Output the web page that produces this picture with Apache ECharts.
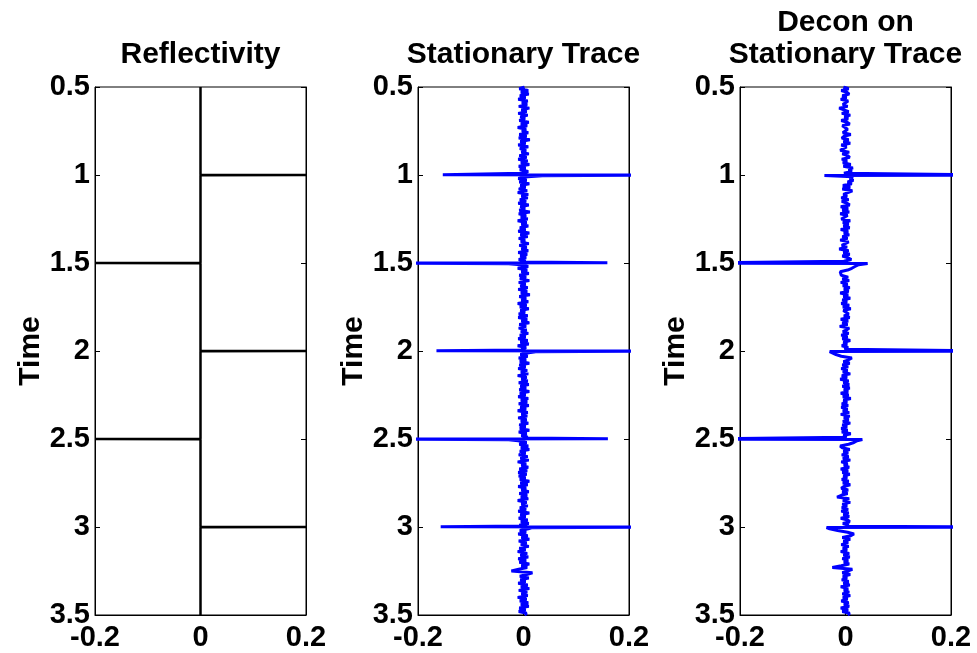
<!DOCTYPE html>
<html><head><meta charset="utf-8">
<script src="https://cdn.jsdelivr.net/npm/echarts@6/dist/echarts.min.js"></script>
<style>html,body{margin:0;padding:0;background:#fff}#c{width:977px;height:653px}</style>
</head><body><div id="c"></div>
<script>
// ---- data ----
const panelTitles = ['Reflectivity', 'Stationary Trace', 'Decon on\nStationary Trace'];
const xTicks = [-0.2, 0, 0.2];
const yTicks = [0.5, 1, 1.5, 2, 2.5, 3, 3.5];
const sampleStart = 0.5, sampleStep = 0.01;            // time grid of noise samples (s)
const eventTimes = [1.0, 1.5, 2.0, 2.5, 3.0];
const reflectivityValues = [0.2, -0.2, 0.2, -0.2, 0.2];

// stationary trace: side lobe, main peak (clipped), small tail bump
const stationaryLobe = [-0.153, 0.159, -0.165, 0.16, -0.157];
const stationaryPeak = [0.34, -0.35, 0.35, -0.35, 0.34];
const stationaryTail = [0.036, -0.028, 0.023, -0.028, 0.015];
// decon trace: main peak (clipped), small opposite bump
const deconPeak = [0.3, -0.3, 0.3, -0.3, 0.3];
const deconBump = [-0.04, 0.042, -0.03, 0.032, -0.036];

const stationaryNoise = [
.002,-.008,.009,-.005,.010,-.007,.004,-.010,.008,-.003,
.007,-.009,.011,-.004,.006,-.010,.008,-.006,.003,-.008,
.010,-.005,.007,-.011,.005,-.003,.009,-.008,.006,-.009,
.012,-.006,.004,-.010,.009,-.007,.005,-.004,.010,-.008,
.006,-.010,.008,-.005,.011,-.009,.004,-.007,.009,-.003,
0,.008,-.010,.006,-.008,.011,-.006,.004,-.009,.007,
-.011,.009,-.004,.008,-.007,.005,-.010,.010,-.006,.003,
-.008,.012,-.009,.005,-.005,.008,-.011,.006,-.004,.009,
-.007,.004,-.010,.011,-.006,.008,-.009,.003,-.005,.010,
-.008,.006,-.004,.009,-.010,.007,-.006,.005,-.009,.004,
0,-.006,.009,-.011,.007,-.004,.010,-.008,.005,-.007,
.011,-.009,.004,-.006,.008,-.010,.007,-.005,.012,-.008,
.005,-.004,.009,-.011,.006,-.007,.010,-.006,.003,-.009,
.008,-.010,.007,-.004,.011,-.008,.005,-.009,.006,-.005,
.009,-.007,.004,-.010,.008,-.006,.010,-.011,.005,-.004,
0,.010,-.006,.008,-.009,.005,-.007,.011,-.008,.004,
-.010,.007,-.005,.009,-.011,.006,-.004,.008,-.009,.010,
-.006,.005,-.008,.011,-.007,.004,-.010,.009,-.005,.007,
-.009,.010,-.006,.005,-.011,.008,-.004,.007,-.010,.006,
-.005,.009,-.008,.004,-.007,.011,-.009,.006,-.004,.008,
0,-.010,.006,-.008,.009,-.005,.011,-.007,.004,-.009,
.008,-.006,.010,-.011,.005,-.004,.009,-.008,.007,-.010,
.006,-.009,.004,-.007,.011,-.006,.008,-.010,.005,-.004,
.010,-.008,.007,-.005,.009,-.011,.006,-.004,.008,-.007,
.005,-.010,.011,-.006,.004,-.009,.008,-.005,.010,-.008,
0,.009,-.007,.005,-.010,.008,-.004,.011,-.009,.006,
-.005,.010,-.008,.004,-.011,.007,-.006,.009,-.010,.005,
-.008,.011,-.004,.007,-.009,-.023,.017,.006,-.007,.010,
-.006,.004,-.010,.008,-.005,.011,-.009,.007,-.004,.008,
-.011,.006,-.007,.009,-.005,.010,-.008,.004,-.009,.006,
.002];

const deconNoise = [
-.004,.006,-.008,.003,.007,-.006,.002,-.009,.005,.008,
-.005,.004,-.012,-.003,.006,-.007,.009,-.002,.005,-.008,
.003,.008,-.006,-.009,.004,.007,-.005,.010,-.003,-.007,
.006,-.004,.009,-.008,.002,.005,-.010,.007,-.006,.004,
.008,-.007,.003,-.005,.010,-.004,.014,.006,.012,-.003,
0,.014,.008,.015,.004,.012,-.005,.009,-.006,.013,
.010,-.004,.003,-.008,.006,-.007,.002,.008,-.009,.005,
-.006,.007,-.010,.004,.003,-.008,.009,-.005,.006,-.004,
.008,-.009,.005,-.003,.007,-.006,.004,-.010,.006,.009,
-.007,.003,-.012,.006,-.004,.008,-.006,.005,.011,-.003,
0,.025,.018,.012,.004,-.010,-.013,-.008,.005,-.006,
.007,-.009,.004,-.005,.008,-.003,.006,-.010,.005,-.004,
.009,-.006,.003,-.008,.007,-.005,.010,-.004,-.007,.006,
-.003,.008,-.009,.005,-.006,.004,-.011,.007,.002,-.005,
.006,-.008,.004,-.006,.009,-.004,.003,-.007,.005,-.002,
0,-.028,-.018,-.008,.012,.006,-.004,.008,-.006,.005,
-.008,.004,-.005,.009,-.007,.003,-.010,.006,-.004,.007,
-.006,.008,-.003,.005,-.009,.006,-.005,.010,-.004,.003,
-.007,.005,-.008,.004,-.005,.007,-.009,.008,-.003,.006,
-.005,.009,-.006,.003,-.008,.004,-.007,.010,-.004,.002,
0,.022,.016,.006,-.010,-.006,.008,-.004,.005,-.007,
.006,-.005,.009,-.008,.004,-.003,.007,-.009,.005,-.006,
.008,-.004,.003,-.007,.006,-.005,.009,-.003,-.008,.005,
-.006,.004,-.008,-.016,.007,-.005,.009,-.006,.003,-.007,
.005,-.008,.006,-.004,.007,-.009,.004,.008,-.005,.006,
0,-.030,-.015,.004,.016,.010,-.006,.009,-.004,.005,
-.008,.006,-.005,.003,-.009,.007,-.004,.008,-.006,.005,
-.003,.007,-.008,-.025,.013,.004,-.006,.009,-.005,.003,
-.007,.006,-.004,.008,-.009,.005,-.003,.007,-.006,.009,
-.005,.004,-.008,.006,-.003,.007,-.009,.005,-.006,.008,
.004];

// ---- build traces ----
function r3(v) { return Math.round(v * 10000) / 10000; }
function eventIndexAt(t) {
  for (let k = 0; k < eventTimes.length; k++) if (Math.abs(eventTimes[k] - t) < 1e-6) return k;
  return -1;
}
function buildReflectivity() {
  const pts = [[0, sampleStart]];
  eventTimes.forEach((t, k) => {
    pts.push([0, r3(t - 0.002)], [reflectivityValues[k], t], [0, r3(t + 0.002)]);
  });
  pts.push([0, 3.5]);
  return pts;
}
function buildTrace(noise, eventFn) {
  const pts = [];
  for (let i = 0; i < noise.length; i++) {
    const t = r3(sampleStart + i * sampleStep);
    const k = eventIndexAt(t);
    if (k >= 0) eventFn(k, t).forEach(p => pts.push(p));
    else pts.push([noise[i], t]);
  }
  return pts;
}
const reflectivityData = buildReflectivity();
const stationaryData = buildTrace(stationaryNoise, (k, t) => [
  [0, r3(t - 0.005)], [stationaryLobe[k], r3(t - 0.002)], [stationaryPeak[k], t], [stationaryTail[k], r3(t + 0.004)]
]);
const deconData = buildTrace(deconNoise, (k, t) => [
  [0, r3(t - 0.004)], [deconPeak[k], t], [deconBump[k], r3(t + 0.003)]
]);

// ---- chart ----
const FONT = '"Liberation Sans", Arial, Helvetica, sans-serif';
const lefts = [95, 418, 740];
const W = 211, TOP = 87, H = 528;
const tickStyle = { color: '#000', fontSize: 29, fontWeight: 'bold', fontFamily: FONT };
const nameStyle = { color: '#000', fontSize: 30, fontWeight: 'bold', fontFamily: FONT };

const chart = echarts.init(document.getElementById('c'), null, { renderer: 'canvas' });
const grids = lefts.map(l => ({ left: l, top: TOP, width: W, height: H, show: true, borderColor: '#000', borderWidth: 1, backgroundColor: '#fff', containLabel: false }));
const xAxes = lefts.map((l, i) => ({
  type: 'value', gridIndex: i, min: xTicks[0], max: xTicks[xTicks.length - 1], interval: 0.2,
  axisLine: { show: true, onZero: false, lineStyle: { color: '#000', width: 1 } },
  axisTick: { show: true, inside: true, length: 5, lineStyle: { color: '#000' } },
  splitLine: { show: false },
  axisLabel: Object.assign({ margin: 8, formatter: v => String(Math.round(v * 10) / 10) }, tickStyle)
}));
const yLeft = lefts.map((l, i) => ({
  type: 'value', gridIndex: i, inverse: true, min: yTicks[0], max: yTicks[yTicks.length - 1], interval: 0.5,
  position: 'left', name: 'Time', nameLocation: 'middle', nameRotate: 90, nameGap: 48,
  nameTextStyle: nameStyle,
  axisLine: { show: true, onZero: false, lineStyle: { color: '#000', width: 1 } },
  axisTick: { show: true, inside: true, length: 5, lineStyle: { color: '#000' } },
  splitLine: { show: false },
  axisLabel: Object.assign({ margin: 5 }, tickStyle)
}));
const yRight = lefts.map((l, i) => ({
  type: 'value', gridIndex: i, inverse: true, min: yTicks[0], max: yTicks[yTicks.length - 1], interval: 0.5,
  position: 'right',
  axisLine: { show: true, onZero: false, lineStyle: { color: '#000', width: 1 } },
  axisTick: { show: true, inside: true, length: 5, lineStyle: { color: '#000' } },
  splitLine: { show: false },
  axisLabel: { show: false }
}));
const titleCenters = lefts.map(l => l + W / 2);
const titleFont = { fill: '#000', fontSize: 30, fontWeight: 'bold', fontFamily: FONT, align: 'center', verticalAlign: 'middle' };
const graphics = [
  { type: 'text', x: titleCenters[0], y: 55, style: Object.assign({ text: panelTitles[0] }, titleFont) },
  { type: 'text', x: titleCenters[1], y: 55, style: Object.assign({ text: panelTitles[1] }, titleFont) },
  { type: 'text', x: titleCenters[2], y: 39, style: Object.assign({ text: panelTitles[2], lineHeight: 32 }, titleFont) }
];
const lineBase = { type: 'line', showSymbol: false, symbol: 'none', clip: true, animation: false, z: 3 };
chart.setOption({
  animation: false,
  backgroundColor: '#fff',
  grid: grids,
  xAxis: xAxes,
  yAxis: yLeft.concat(yRight),
  graphic: graphics,
  series: [
    Object.assign({ name: 'Reflectivity', xAxisIndex: 0, yAxisIndex: 0, data: reflectivityData, lineStyle: { color: '#000', width: 2.5 } }, lineBase),
    Object.assign({ name: 'Stationary Trace', xAxisIndex: 1, yAxisIndex: 1, data: stationaryData, lineStyle: { color: '#0000ff', width: 3 } }, lineBase),
    Object.assign({ name: 'Decon on Stationary Trace', xAxisIndex: 2, yAxisIndex: 2, data: deconData, lineStyle: { color: '#0000ff', width: 3 } }, lineBase)
  ]
});
</script></body></html>
